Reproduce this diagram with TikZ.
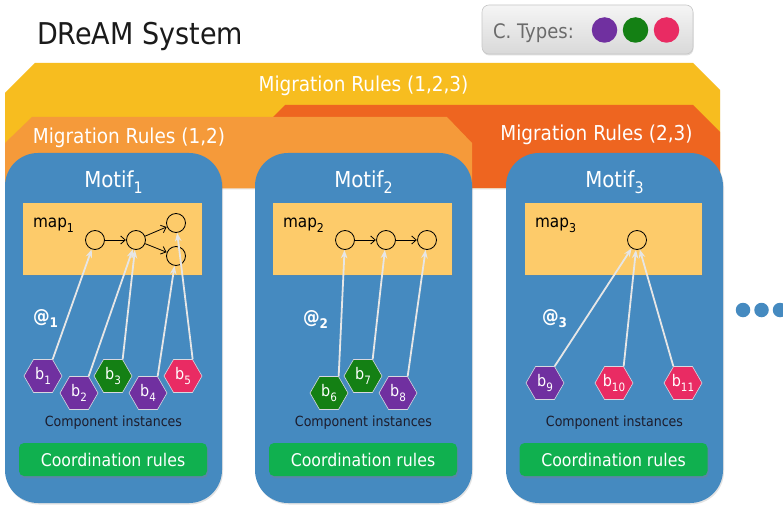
\documentclass[tikz,border=0pt]{standalone}
\usepackage{fontspec}
\setmainfont{DejaVu Sans}[FakeStretch=0.9]
\usepackage{graphicx}
\usetikzlibrary{shapes.geometric,arrows.meta,shadows}

\definecolor{bandyellow}{HTML}{F7BD1F}
\definecolor{bandorange}{HTML}{F59A3A}
\definecolor{banddark}{HTML}{EE6520}
\definecolor{motifblue}{HTML}{458AC0}
\definecolor{mapyellow}{HTML}{FDCB6A}
\definecolor{coordgreen}{HTML}{10B04F}
\definecolor{cpurple}{HTML}{7030A0}
\definecolor{cgreen}{HTML}{148014}
\definecolor{cpink}{HTML}{E92B63}
\definecolor{linegray}{HTML}{E6E6E6}
\definecolor{hexedge}{HTML}{D8D8E0}
\definecolor{titleblack}{HTML}{1A1A1A}
\definecolor{typegray}{HTML}{6B6B6B}
\definecolor{instdark}{HTML}{1C1C2C}

% font size in points (one point is one pixel of the drawing)
\newcommand\pxfont[1]{\fontsize{#1}{#1}\selectfont}
% lowered, reduced index
\newcommand\lowsub[1]{\raisebox{-0.3em}{\scalebox{0.72}{#1}}}

\begin{document}
\begin{tikzpicture}[x=1pt,y=-1pt,
  txt/.style={inner sep=0pt, outer sep=0pt},
  bandtext/.style={txt, text=white, font=\pxfont{20.5}, anchor=base},
  motifbox/.style={fill=motifblue, rounded corners=33pt, minimum width=217pt,
    minimum height=350pt, inner sep=0pt,
    drop shadow={opacity=0.22, shadow xshift=1pt, shadow yshift=-1.5pt}},
  motiftitle/.style={txt, text=white, font=\pxfont{22}, anchor=base},
  mapbox/.style={fill=mapyellow, minimum width=179pt, minimum height=72pt, inner sep=0pt,
    drop shadow={opacity=0.2, shadow xshift=1pt, shadow yshift=-1pt}},
  maplabel/.style={txt, text=black, font=\pxfont{17}, anchor=base west},
  st/.style={circle, draw=black, line width=0.8pt, minimum size=19pt, inner sep=0pt},
  flow/.style={draw=black, line width=0.8pt, -{Straight Barb[length=4.5pt,width=8pt]},
    shorten >=0.3pt},
  hexa/.style={regular polygon, regular polygon sides=6, minimum size=38pt, inner sep=0pt,
    draw=hexedge, line width=0.6pt, text=white, font=\pxfont{16}},
  inst/.style={draw=linegray, line width=1.8pt, -{Stealth[length=8.5pt,width=6.5pt]}},
  atlabel/.style={txt, text=white, font=\bfseries\pxfont{18.5}, anchor=base west},
  instlabel/.style={txt, text=instdark, font=\pxfont{14}, anchor=base},
  coordbox/.style={fill=coordgreen, rounded corners=5pt, minimum width=188pt,
    minimum height=33pt, inner sep=0pt, text=white, font=\pxfont{17.5},
    drop shadow={opacity=0.35, shadow xshift=1pt, shadow yshift=-2pt}},
  typedot/.style={circle, minimum size=25.5pt, inner sep=0pt},
  moredot/.style={circle, fill=motifblue, minimum size=14.5pt, inner sep=0pt}
]
\useasboundingbox (0,0) rectangle (783,505);
\fill[white] (0,0) rectangle (783,505);

% title
\node[txt, anchor=base west, text=titleblack, font=\pxfont{30}] (title) at (37,45) {DReAM System};

% component type legend
\node[rounded corners=7pt, minimum width=211pt, minimum height=49pt, inner sep=0pt,
  top color=white!96!black, bottom color=white!85!black, draw=white!78!black, line width=0.6pt,
  drop shadow={opacity=0.25, shadow xshift=0.5pt, shadow yshift=-1.5pt}] (legend) at (587.5,29.5) {};
\node[txt, anchor=base west, text=typegray, font=\pxfont{20}] (ctypes) at (493,39) {C. Types:};
\node[typedot, fill=cpurple] (tpurple) at (604.5,30) {};
\node[typedot, fill=cgreen] (tgreen) at (635.5,30) {};
\node[typedot, fill=cpink] (tpink) at (666.5,30) {};

% migration rule bands
\fill[bandyellow, drop shadow={opacity=0.15, shadow xshift=0pt, shadow yshift=-1.5pt}]
  (5,93) -- (35,63) -- (693,63) -- (720,90) -- (720,188) -- (5,188) -- cycle;
\fill[banddark] (285,105) -- (693,105) -- (720,132) -- (720,188) -- (202,188) -- cycle;
\fill[bandorange] (5,143) -- (32,117) -- (447,117) -- (472,143) -- (472,188) -- (5,188) -- cycle;
\node[bandtext] (r123) at (363.5,92) {Migration Rules (1,2,3)};
\node[bandtext] (r12) at (129,143) {Migration Rules (1,2)};
\node[bandtext] (r23) at (596.5,141) {Migration Rules (2,3)};

% motif containers
\node[motifbox] (m1) at (113.5,328) {};
\node[motifbox] (m2) at (363.5,328) {};
\node[motifbox] (m3) at (614.5,328) {};
\node[motiftitle] (t1) at (113.5,187) {Motif\lowsub{1}};
\node[motiftitle] (t2) at (363.5,187) {Motif\lowsub{2}};
\node[motiftitle] (t3) at (614.5,187) {Motif\lowsub{3}};

% maps
\node[mapbox] (map1) at (112.5,239) {};
\node[mapbox] (map2) at (362.5,239) {};
\node[mapbox, minimum width=177pt] (map3) at (613.5,239) {};
\node[maplabel] (ml1) at (33,227) {map\lowsub{1}};
\node[maplabel] (ml2) at (283,227) {map\lowsub{2}};
\node[maplabel] (ml3) at (535,227) {map\lowsub{3}};

% map states
\node[st] (c11) at (95,240) {};
\node[st] (c12) at (136,240) {};
\node[st] (c13) at (176,223) {};
\node[st] (c14) at (176,256) {};
\node[st] (c21) at (345,240) {};
\node[st] (c22) at (386,240) {};
\node[st] (c23) at (427,240) {};
\node[st] (c31) at (637,240) {};
\draw[flow] (c11) -- (c12);
\draw[flow] (c12) -- (c13);
\draw[flow] (c12) -- (c14);
\draw[flow] (c21) -- (c22);
\draw[flow] (c22) -- (c23);

% placement labels
\node[atlabel] (at1) at (33,322) {@\lowsub{1}};
\node[atlabel] (at2) at (303,323) {@\lowsub{2}};
\node[atlabel] (at3) at (542,322) {@\lowsub{3}};

% component instances
\node[hexa, fill=cpurple] (b1) at (43,376) {b\lowsub{1}};
\node[hexa, fill=cpurple] (b2) at (79,393) {b\lowsub{2}};
\node[hexa, fill=cgreen] (b3) at (113,376) {b\lowsub{3}};
\node[hexa, fill=cpurple] (b4) at (148,393) {b\lowsub{4}};
\node[hexa, fill=cpink] (b5) at (183,376) {b\lowsub{5}};
\node[hexa, fill=cgreen] (b6) at (329,393) {b\lowsub{6}};
\node[hexa, fill=cgreen] (b7) at (363,376) {b\lowsub{7}};
\node[hexa, fill=cpurple] (b8) at (398,393) {b\lowsub{8}};
\node[hexa, fill=cpurple] (b9) at (545,383) {b\lowsub{9}};
\node[hexa, fill=cpink] (b10) at (614,383) {b\lowsub{10}};
\node[hexa, fill=cpink] (b11) at (683,383) {b\lowsub{11}};

% mapping of instances onto states
\draw[inst] (b1.60) -- (c11);
\draw[inst] (b2.60) -- (c12);
\draw[inst] (b3.60) -- (c12);
\draw[inst] (b4.60) -- (c14);
\draw[inst] (b5.60) -- (c13);
\draw[inst] (b6.60) -- (c21);
\draw[inst] (b7.60) -- (c22);
\draw[inst] (b8.60) -- (c23);
\draw[inst] (b9.60) -- (c31);
\draw[inst] (b10.60) -- (c31);
\draw[inst] (b11.120) -- (c31);

\node[instlabel] (i1) at (113.5,426.5) {Component instances};
\node[instlabel] (i2) at (363.5,426.5) {Component instances};
\node[instlabel] (i3) at (614.5,426.5) {Component instances};

% coordination rules
\node[coordbox] (cr1) at (113,459.5) {Coordination rules};
\node[coordbox] (cr2) at (363,459.5) {Coordination rules};
\node[coordbox] (cr3) at (613.5,459.5) {Coordination rules};

% further motifs
\node[moredot] (d1) at (743,310) {};
\node[moredot] (d2) at (761.5,310) {};
\node[moredot] (d3) at (780,310) {};
\end{tikzpicture}
\end{document}
